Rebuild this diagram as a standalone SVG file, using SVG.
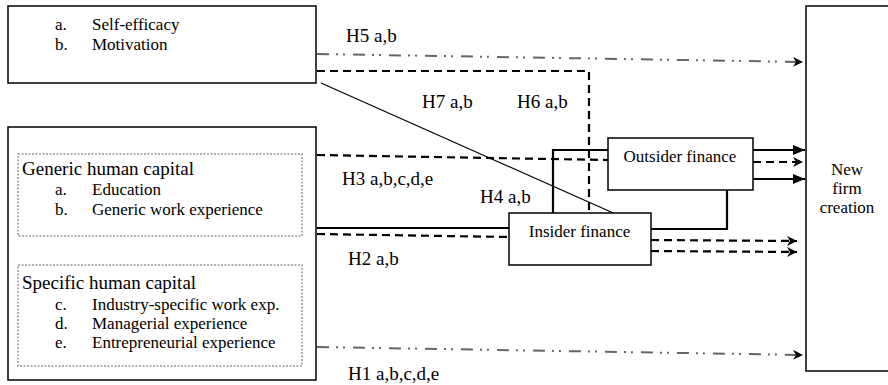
<svg xmlns="http://www.w3.org/2000/svg" width="888" height="385" viewBox="0 0 888 385" font-family="'Liberation Serif', 'Times New Roman', serif">
<style>
text{font-family:"Liberation Serif","Times New Roman",serif;fill:#000;font-size:17px}
.h{font-size:19px}
.lb{font-size:19px}
.box{fill:#fff;stroke:#000;stroke-width:1.5}
.dot{fill:none;stroke:#b0b0b0;stroke-width:2;stroke-dasharray:2,1.5}
.solid{fill:none;stroke:#000;stroke-width:2.2}
.dash{fill:none;stroke:#000;stroke-width:2.2;stroke-dasharray:8,5}
.dd{fill:none;stroke:#666;stroke-width:2;stroke-dasharray:12,7,2,5,2,8}
.thin{fill:none;stroke:#000;stroke-width:1.2}
.c{text-anchor:middle}
</style>
<defs>
<marker id="tri" markerUnits="userSpaceOnUse" markerWidth="14" markerHeight="12" refX="12" refY="5" orient="auto"><path d="M0,0 L12,5 L0,10 z" fill="#000"/></marker>
<marker id="stl" markerUnits="userSpaceOnUse" markerWidth="12" markerHeight="12" refX="10" refY="5" orient="auto"><path d="M0,0 L10,5 L0,10 L3,5 z" fill="#000"/></marker>
</defs>
<g id="connectors">
<polyline class="dd" points="317,54 803,62" marker-end="url(#stl)"/>
<polyline class="dash" points="317,71 589,71 589,213"/>
<line class="thin" x1="321" y1="83" x2="620" y2="216"/>
<polyline class="dash" points="317,155 608,160"/>
<polyline class="solid" points="317,228 509,228"/>
<polyline class="solid" points="553,213 553,150 608,150"/>
<polyline class="dash" points="317,234 509,237"/>
<polyline class="solid" points="753,150 805,150" marker-end="url(#tri)"/>
<polyline class="dash" points="753,162 803,162" marker-end="url(#stl)"/>
<polyline class="solid" points="753,179 805,179" marker-end="url(#tri)"/>
<polyline class="solid" points="651,229 727,229 727,190"/>
<polyline class="dash" points="651,240 797,241" marker-end="url(#stl)"/>
<polyline class="dash" points="651,251 797,252" marker-end="url(#stl)"/>
<polyline class="dd" points="317,347 803,355" marker-end="url(#stl)"/>
</g>
<g id="labels">
<text class="lb" x="346" y="42">H5 a,b</text>
<text class="lb" x="422" y="108">H7 a,b</text>
<text class="lb" x="517" y="108">H6 a,b</text>
<text class="lb" x="342" y="185">H3 a,b,c,d,e</text>
<text class="lb" x="480" y="203">H4 a,b</text>
<text class="lb" x="348" y="265">H2 a,b</text>
<text class="lb" x="348" y="380">H1 a,b,c,d,e</text>
</g>
<g id="motivation">
<rect class="box" x="8" y="6" width="308" height="77"/>
<text x="55" y="30">a.</text><text x="92" y="30">Self-efficacy</text>
<text x="55" y="50">b.</text><text x="92" y="50">Motivation</text>
</g>
<g id="human-capital">
<rect class="box" x="8" y="127" width="308" height="253"/>
<rect class="dot" x="18" y="154" width="284" height="82"/>
<text class="h" x="22" y="175">Generic human capital</text>
<text x="55" y="195">a.</text><text x="92" y="195">Education</text>
<text x="55" y="215">b.</text><text x="92" y="215">Generic work experience</text>
<rect class="dot" x="18" y="265" width="284" height="101"/>
<text class="h" x="22" y="289">Specific human capital</text>
<text x="55" y="310">c.</text><text x="92" y="310">Industry-specific work exp.</text>
<text x="55" y="329">d.</text><text x="92" y="329">Managerial experience</text>
<text x="55" y="348">e.</text><text x="92" y="348">Entrepreneurial experience</text>
</g>
<g id="outsider">
<rect class="box" x="608" y="138" width="145" height="52"/>
<text class="c" x="680" y="162">Outsider finance</text>
</g>
<g id="insider">
<rect class="box" x="509" y="213" width="142" height="52"/>
<text class="c" x="579.5" y="237">Insider finance</text>
</g>
<g id="new-firm">
<rect class="box" x="806" y="6" width="84" height="365"/>
<text class="c" x="847" y="175">New</text>
<text class="c" x="847" y="194">firm</text>
<text class="c" x="847" y="213">creation</text>
</g>
</svg>
